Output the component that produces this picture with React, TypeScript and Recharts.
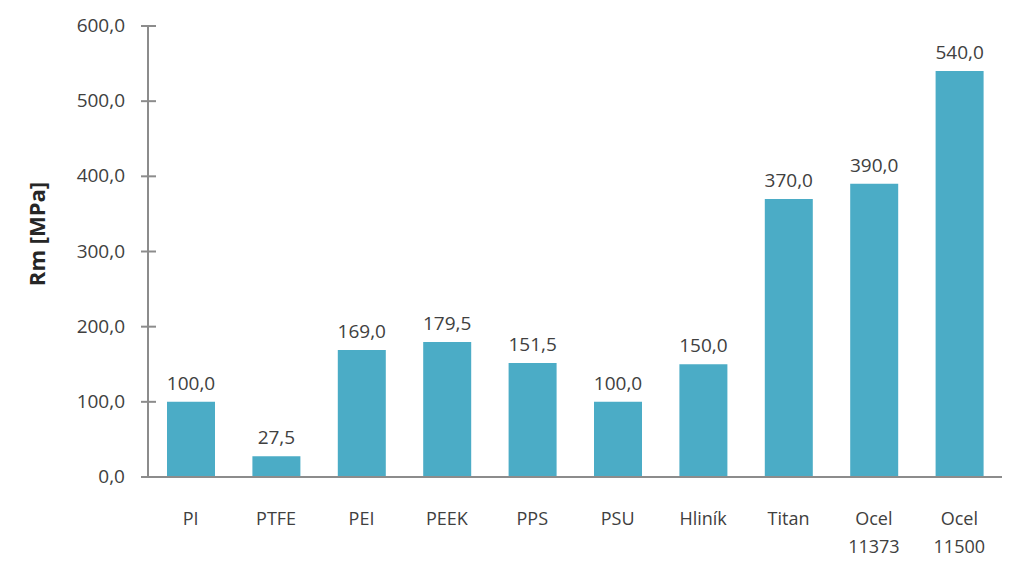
import { Bar, BarChart, LabelList, XAxis, YAxis } from "recharts";

const materials = ["PI", "PTFE", "PEI", "PEEK", "PPS", "PSU", "Hliník", "Titan", "Ocel 11373", "Ocel 11500"];
const rmValues = [100, 27.5, 169, 179.5, 151.5, 100, 150, 370, 390, 540];
const yTicks = [0, 100, 200, 300, 400, 500, 600];

const chartData = materials.map((name, i) => ({ name, rm: rmValues[i] }));

const FONT = "'Open Sans', 'Noto Sans', sans-serif";
const TEXT = "#404040";
const AXIS = "#8c8c8c";

const fmt = (v: number) => v.toFixed(1).replace(".", ",");

function YTick({ x, y, payload }: any) {
  return (
    <g>
      <line x1={x - 7} x2={x + 8} y1={y} y2={y} stroke={AXIS} strokeWidth={2} />
      <text x={x - 23} y={y} dy={6} textAnchor="end" fill={TEXT} fontSize={19} fontFamily={FONT}>
        {fmt(payload.value)}
      </text>
    </g>
  );
}

function XTick({ x, y, payload }: any) {
  const lines = String(payload.value).split(" ");
  return (
    <text x={x} y={y} textAnchor="middle" fill={TEXT} fontSize={18} fontFamily={FONT}>
      {lines.map((l, i) => (
        <tspan key={i} x={x} dy={i === 0 ? 40 : 28}>
          {l}
        </tspan>
      ))}
    </text>
  );
}

// axis title sits a bit above the plot's middle, as in the original
function YTitle() {
  const cx = 36;
  const cy = 234;
  return (
    <text
      x={cx}
      y={cy}
      transform={`rotate(-90, ${cx}, ${cy})`}
      textAnchor="middle"
      dominantBaseline="central"
      fontFamily={FONT}
      fontSize={22}
      fontWeight={700}
      fill="#262626"
    >
      Rm [MPa]
    </text>
  );
}

export default function App() {
  return (
    <div style={{ position: "absolute", left: 0, top: 0, background: "#fff" }}>
      <BarChart
        width={1022}
        height={568}
        data={chartData}
        margin={{ top: 26, right: 20, bottom: 31, left: 58 }}
      >
        <XAxis
          dataKey="name"
          tickLine={false}
          axisLine={{ stroke: AXIS, strokeWidth: 2 }}
          tick={<XTick />}
          interval={0}
          height={60}
        />
        <YAxis
          domain={[0, 600]}
          ticks={yTicks}
          width={90}
          tickLine={false}
          tickSize={0}
          tickMargin={0}
          axisLine={{ stroke: AXIS, strokeWidth: 2 }}
          tick={<YTick />}
          label={{ content: () => <YTitle /> }}
        />
        <Bar dataKey="rm" fill="#4BACC6" barSize={48} isAnimationActive={false}>
          <LabelList
            dataKey="rm"
            position="top"
            offset={12}
            formatter={(v: any) => fmt(Number(v))}
            style={{ fontFamily: FONT, fontSize: 19, fill: TEXT }}
          />
        </Bar>
      </BarChart>
    </div>
  );
}
